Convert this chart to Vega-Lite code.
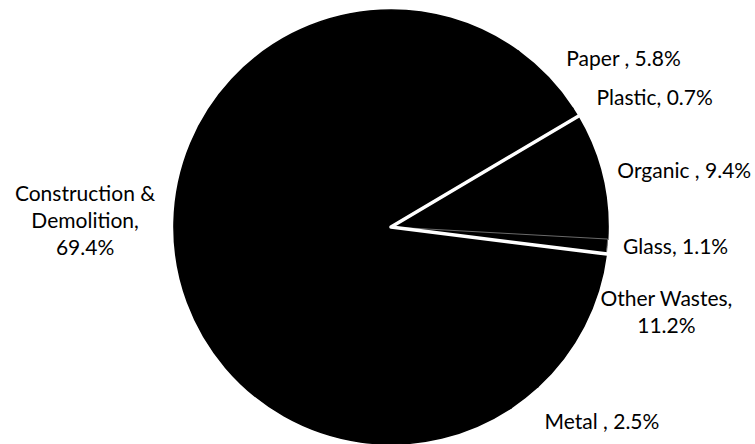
{
  "$schema": "https://vega.github.io/schema/vega-lite/v6.json",
  "width": 728,
  "height": 434,
  "autosize": "none",
  "padding": {"left": 27, "top": 10, "right": 0, "bottom": 0},
  "background": "white",
  "config": {
    "view": {"stroke": null},
    "text": {"font": "Lato", "fontSize": 21, "color": "black", "lineBreak": "\n", "lineHeight": 27}
  },
  "data": {
    "values": [
      {"category": "Paper", "share": 5.8, "label": "Paper , 5.8%"},
      {"category": "Plastic", "share": 0.7, "label": "Plastic, 0.7%"},
      {"category": "Organic", "share": 9.4, "label": "Organic , 9.4%"},
      {"category": "Glass", "share": 1.1, "label": "Glass, 1.1%"},
      {"category": "Other Wastes", "share": 11.2, "label": "Other Wastes,\n11.2%"},
      {"category": "Metal", "share": 2.5, "label": "Metal , 2.5%"},
      {"category": "Construction & Demolition", "share": 69.4, "label": "Construction &\nDemolition,\n69.4%"}
    ]
  },
  "transform": [
    {"window": [{"op": "row_number", "as": "idx"}]},
    {"stack": "share", "groupby": [], "sort": [{"field": "idx"}], "as": ["t0", "t1"]}
  ],
  "layer": [
    {
      "mark": {"type": "arc", "fill": "black"},
      "encoding": {
        "theta": {"field": "t0", "type": "quantitative", "scale": {"domain": [0, 100.1], "range": [0.6283, 6.9115]}},
        "theta2": {"field": "t1"},
        "stroke": {"condition": {"test": "datum.category === 'Glass'", "value": "#6a6a6a"}, "value": "black"},
        "strokeWidth": {"condition": {"test": "datum.category === 'Glass'", "value": 1}, "value": 1.6}
      }
    },
    {
      "transform": [
        {"filter": {"field": "category", "oneOf": ["Organic", "Glass"]}},
        {"aggregate": [{"op": "min", "field": "t0", "as": "w0"}, {"op": "max", "field": "t1", "as": "w1"}]}
      ],
      "mark": {"type": "arc", "fill": "transparent", "stroke": "white", "strokeWidth": 3.5, "strokeJoin": "round", "outerRadius": 222},
      "encoding": {
        "theta": {"field": "w0", "type": "quantitative", "scale": {"domain": [0, 100.1], "range": [0.6283, 6.9115]}},
        "theta2": {"field": "w1"}
      }
    },
    {
      "mark": {"type": "text", "align": "left", "baseline": "middle", "radius": 242},
      "encoding": {
        "theta": {"field": "share", "type": "quantitative", "stack": true, "scale": {"domain": [0, 100.1], "range": [0.6283, 6.9115]}},
        "order": {"field": "idx"},
        "text": {"condition": {"test": "indexof(['Paper', 'Plastic'], datum.category) >= 0", "field": "label"}, "value": ""}
      }
    },
    {
      "mark": {"type": "text", "align": "left", "baseline": "middle", "radius": 249},
      "encoding": {
        "theta": {"field": "share", "type": "quantitative", "stack": true, "scale": {"domain": [0, 100.1], "range": [0.6283, 6.9115]}},
        "order": {"field": "idx"},
        "text": {"condition": {"test": "datum.category === 'Metal'", "field": "label"}, "value": ""}
      }
    },
    {
      "mark": {"type": "text", "align": "left", "baseline": "middle", "radius": 233},
      "encoding": {
        "theta": {"field": "share", "type": "quantitative", "stack": true, "scale": {"domain": [0, 100.1], "range": [0.6283, 6.9115]}},
        "order": {"field": "idx"},
        "text": {"condition": {"test": "indexof(['Organic', 'Glass'], datum.category) >= 0", "field": "label"}, "value": ""}
      }
    },
    {
      "mark": {"type": "text", "align": "center", "baseline": "middle", "radius": 285, "thetaOffset": -0.216},
      "encoding": {
        "theta": {"field": "share", "type": "quantitative", "stack": true, "scale": {"domain": [0, 100.1], "range": [0.6283, 6.9115]}},
        "order": {"field": "idx"},
        "text": {"condition": {"test": "datum.category === 'Other Wastes'", "field": "label"}, "value": ""}
      }
    },
    {
      "mark": {"type": "text", "align": "center", "baseline": "middle", "radius": 306, "dy": -26},
      "encoding": {
        "theta": {"field": "share", "type": "quantitative", "stack": true, "scale": {"domain": [0, 100.1], "range": [0.6283, 6.9115]}},
        "order": {"field": "idx"},
        "text": {"condition": {"test": "datum.category === 'Construction & Demolition'", "field": "label"}, "value": ""}
      }
    }
  ]
}
